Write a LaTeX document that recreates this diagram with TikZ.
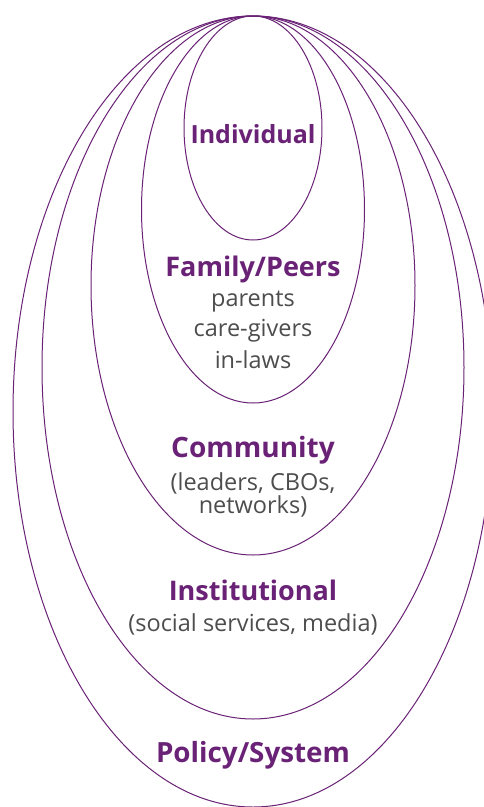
\documentclass[tikz,border=0pt]{standalone}
\usepackage{fontspec}
\setmainfont{Open Sans}
\definecolor{pur}{RGB}{106,34,118}
\definecolor{txtgray}{RGB}{77,77,77}
\begin{document}
\begin{tikzpicture}[x=1pt,y=-1pt,
  ring/.style={draw=pur,line width=1pt},
  title/.style={anchor=base,text=pur,font=\bfseries\fontsize{27}{30}\selectfont,inner sep=0pt},
  sub/.style={anchor=base,text=txtgray,font=\fontsize{23.5}{26}\selectfont,inner sep=0pt}]
\useasboundingbox (0,0) rectangle (484,807);
\fill[white] (0,0) rectangle (484,807);
% ellipses sharing top point (253,16)
\draw[ring] (253,411.5) ellipse [x radius=240,y radius=395.5];
\draw[ring] (253,367.5) ellipse [x radius=211,y radius=351.5];
\draw[ring] (253,285.5) ellipse [x radius=162,y radius=269.5];
\draw[ring] (253,209.5) ellipse [x radius=111.5,y radius=193.5];
\draw[ring] (253,128) ellipse [x radius=69,y radius=112];
% labels
\node[title,font=\bfseries\fontsize{25}{28}\selectfont] (ind) at (253,143.3) {Individual};
\node[title] (fam) at (253,276) {Family/Peers};
\node[sub] (fam1) at (253,306.7) {parents};
\node[sub] (fam2) at (253,336.7) {care-givers};
\node[sub] (fam3) at (253,368) {in-laws};
\node[title,font=\bfseries\fontsize{28}{30}\selectfont] (com) at (253,457) {Community};
\node[sub] (com1) at (253,490) {(leaders, CBOs,};
\node[sub] (com2) at (253,513) {networks)};
\node[title] (ins) at (253,600) {Institutional};
\node[sub] (ins1) at (253,631.7) {(social services, media)};
\node[title,font=\bfseries\fontsize{27.8}{30}\selectfont] (pol) at (253,762.7) {Policy/System};
\end{tikzpicture}
\end{document}
